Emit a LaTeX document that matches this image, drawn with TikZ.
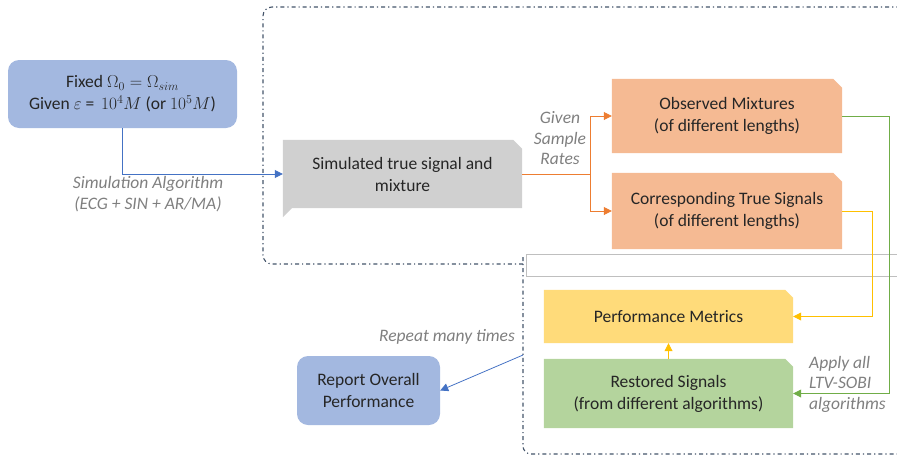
\documentclass[tikz,border=0pt]{standalone}
\usepackage{fontspec}
\setmainfont{Carlito}
\usetikzlibrary{arrows.meta,backgrounds}
\definecolor{bluefill}{HTML}{A3B8E0}
\definecolor{bluelink}{HTML}{4472C4}
\definecolor{grayfill}{HTML}{D0D0D0}
\definecolor{orangefill}{HTML}{F5BA93}
\definecolor{orangelink}{HTML}{ED7D31}
\definecolor{yellowfill}{HTML}{FFDB7A}
\definecolor{yellowlink}{HTML}{FFC000}
\definecolor{greenfill}{HTML}{B4D49D}
\definecolor{greenlink}{HTML}{70AD47}
\definecolor{labelgray}{HTML}{7F7F7F}
\definecolor{ddcol}{HTML}{44546A}
\tikzset{
  txt/.style={align=center, inner sep=0pt, font=\fontsize{17.5}{22}\selectfont, text=black!85},
  roundbox/.style={txt, fill=bluefill, rounded corners=11pt},
  plainbox/.style={txt},
  lab/.style={inner sep=0pt, font=\fontsize{17.5}{20.5}\selectfont\itshape, text=labelgray},
  dd/.style={ddcol, line width=1.1pt, dash pattern=on 4pt off 3pt on 1.2pt off 3pt},
  tip/.style={-{Triangle[width=8pt,length=8pt]}},
}
\newcommand{\snipNE}[3]{% node, colour, snip size
  \fill[#2] (#1.north west) -- ([xshift=-#3]#1.north east) -- ([yshift=-#3]#1.north east) -- (#1.south east) -- (#1.south west) -- cycle;}
\begin{document}
\begin{tikzpicture}[x=1pt,y=-1pt]
\useasboundingbox (0,0) rectangle (897,458);

% dashed containers
\draw[dd, rounded corners=9pt] (523,264) -- (263,264) -- (263,7) -- (897,7);
\draw[black!25, line width=0.8pt] (526,254) -- (897,254) (526,254) -- (526,276) -- (897,276);
\draw[dd, rounded corners=8pt] (523,257) -- (523,454) -- (897,454);

% nodes
\node[roundbox, minimum width=229pt, minimum height=68pt] (fixed) at (122.5,94)
  {Fixed $\Omega_0 = \Omega_{sim}$\\Given $\varepsilon$ = \,$10^4M$ (or $10^5M$)};
\node[plainbox, minimum width=239pt, minimum height=68pt] (sim) at (402.5,174)
  {Simulated true signal and\\mixture};
\node[plainbox, minimum width=230pt, minimum height=74pt] (obs) at (727,116)
  {Observed Mixtures\\(of different lengths)};
\node[plainbox, minimum width=230pt, minimum height=76pt] (cor) at (727,211)
  {Corresponding True Signals\\(of different lengths)};
\node[plainbox, minimum width=249pt, minimum height=53pt] (perf) at (668.5,316.5)
  {Performance Metrics};
\node[plainbox, minimum width=249pt, minimum height=69pt] (rest) at (668.5,393.5)
  {Restored Signals\\(from different algorithms)};
\node[roundbox, minimum width=143pt, minimum height=69pt] (report) at (368.5,390.5)
  {Report Overall\\Performance};

\begin{pgfonlayer}{background}
  \fill[grayfill] (sim.north west) -- ([xshift=-9pt]sim.north east) -- ([yshift=-9pt]sim.north east)
     -- (sim.south east) -- ([xshift=9pt]sim.south west) -- ([yshift=-9pt]sim.south west) -- cycle;
  \snipNE{obs}{orangefill}{9pt}
  \snipNE{cor}{orangefill}{9pt}
  \snipNE{perf}{yellowfill}{8pt}
  \snipNE{rest}{greenfill}{8pt}
\end{pgfonlayer}

% labels
\node[lab, align=center] (simlab) at (148,194) {Simulation Algorithm\\(ECG + SIN + AR/MA)};
\node[lab, align=center] (ratelab) at (560,138.5) {Given\\Sample\\Rates};
\node[lab] (replab) at (447,337) {Repeat many times};
\node[lab, align=left, anchor=west] (applab) at (809,384) {Apply all\\LTV-SOBI\\algorithms};

% connectors
\coordinate (br) at (590,174);
\coordinate (gx) at (889,116);
\coordinate (yx) at (872,211);
\coordinate (rp) at (523,355);
\draw[bluelink, line width=0.8pt, tip] (fixed.south) |- (sim.west);
\draw[orangelink, line width=0.8pt] (sim.east) -- (br);
\draw[orangelink, line width=0.8pt, tip] (br) |- (obs.west);
\draw[orangelink, line width=0.8pt, tip] (br) |- (cor.west);
\draw[greenlink, line width=0.8pt, tip] (obs.east) -- (gx) |- (rest.east);
\draw[yellowlink, line width=0.8pt, tip] (cor.east) -- (yx) |- (perf.east);
\draw[yellowlink, line width=0.8pt, tip] (rest.north) -- (perf.south);
\draw[bluelink, line width=0.8pt, tip] (rp) -- (report.east);
\end{tikzpicture}
\end{document}
